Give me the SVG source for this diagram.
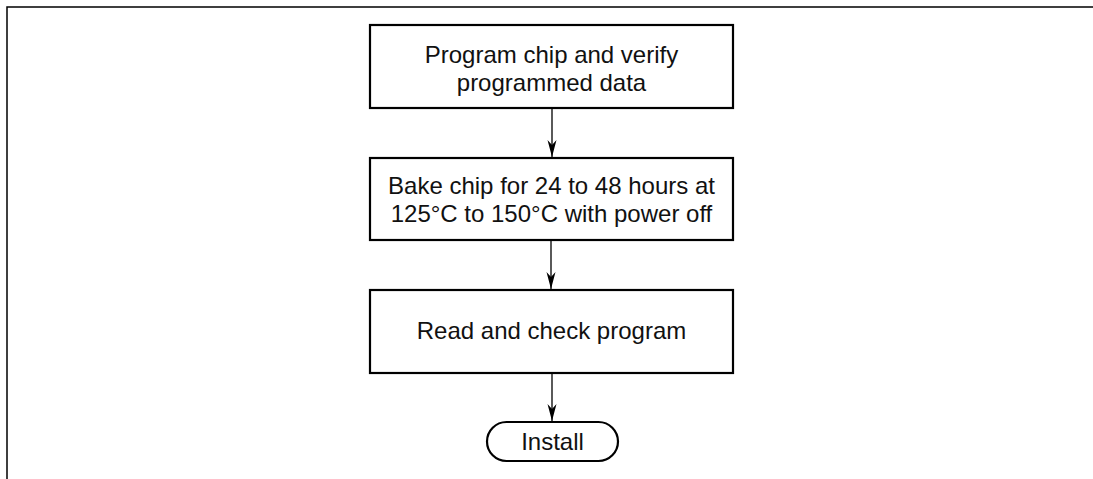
<svg xmlns="http://www.w3.org/2000/svg" width="1093" height="479" viewBox="0 0 1093 479">
<style>
.box{fill:#fff;stroke:#000;stroke-width:2.2}
.t{font-family:"Liberation Sans",Arial,sans-serif;font-size:24px;fill:#111;text-anchor:middle}
.c{stroke:#000;stroke-width:1.3;fill:none}
.frame{stroke:#000;stroke-width:1.5;fill:none}
</style>
<defs>
<marker id="arr" markerWidth="17" markerHeight="10" refX="17" refY="5" orient="auto" markerUnits="userSpaceOnUse" viewBox="0 0 17 10">
<path d="M0,0.5 L17,5 L0,9.5 L5,5 Z" fill="#000"/>
</marker>
</defs>
<path class="frame" d="M7,479 V7 H1093"/>
<g id="connectors">
<line class="c" x1="552" y1="109" x2="552" y2="157" marker-end="url(#arr)"/>
<line class="c" x1="551" y1="241" x2="551" y2="289" marker-end="url(#arr)"/>
<line class="c" x1="552" y1="374" x2="552" y2="421" marker-end="url(#arr)"/>
</g>
<g id="n1">
<rect class="box" x="370" y="25" width="363" height="83"/>
<text class="t" x="551.5" y="63">Program chip and verify</text>
<text class="t" x="551.5" y="91">programmed data</text>
</g>
<g id="n2">
<rect class="box" x="370" y="158" width="363" height="82"/>
<text class="t" x="551.5" y="194">Bake chip for 24 to 48 hours at</text>
<text class="t" x="551.5" y="222">125°C to 150°C with power off</text>
</g>
<g id="n3">
<rect class="box" x="370" y="290" width="363" height="83"/>
<text class="t" x="551.5" y="339">Read and check program</text>
</g>
<g id="n4">
<rect class="box" x="487" y="422" width="131" height="39" rx="19.5" ry="19.5"/>
<text class="t" x="552.5" y="450">Install</text>
</g>
</svg>
